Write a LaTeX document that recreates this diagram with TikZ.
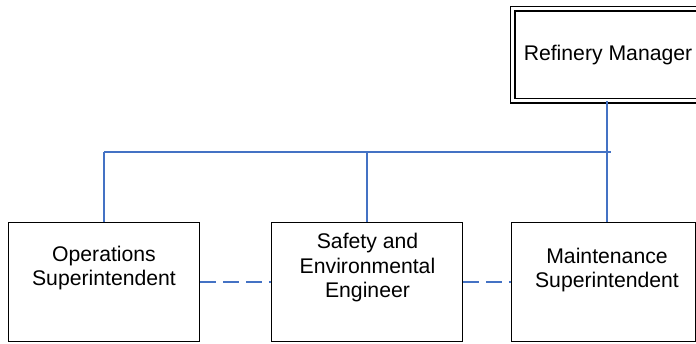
\documentclass[tikz,border=0pt]{standalone}
\usepackage{fontspec}
\setmainfont{Liberation Sans}
\usetikzlibrary{positioning}
\definecolor{ink}{HTML}{000000}
\definecolor{link}{HTML}{4472C4}
\tikzset{
  box/.style={draw=ink,line width=1.7pt,fill=white,inner sep=0pt,minimum width=191pt,minimum height=119pt},
  boxtop/.style={box,double=white,double distance=3.2pt,line width=1.4pt,minimum width=191pt,minimum height=92pt},
  txt/.style={align=center,font=\fontsize{21.2}{24.5}\selectfont,text=ink,inner sep=0pt},
  ln/.style={draw=link,line width=1.7pt},
  lnd/.style={ln,dash pattern=on 16pt off 7pt},
}
\begin{document}
\begin{tikzpicture}[x=1pt,y=-1pt]
\useasboundingbox (0,0) rectangle (696,343);
\clip (0,0) rectangle (696,343);
\node[boxtop] (rm) at (608,54.5) {};
\node[box] (ops) at (104,282) {};
\node[box] (saf) at (367,282) {};
\node[box,minimum width=184pt] (mnt) at (603.5,282) {};
\node[txt] (rmT) at (608,55) {Refinery Manager};
\node[txt] (opsT) at (104,268) {Operations\\Superintendent};
\node[txt] (safT) at (367.5,268) {Safety and\\Environmental\\Engineer};
\node[txt] (mntT) at (607,270) {Maintenance\\Superintendent};
\coordinate (bus) at (0,152);
\coordinate (busE) at (611,152);
\draw[ln] (ops.north |- bus) -- (busE);
\draw[ln] (rm.south -| 607,0) -- (mnt.north -| 607,0);
\draw[ln] (ops.north) -- (ops.north |- bus);
\draw[ln] (saf.north) -- (saf.north |- bus);
\draw[lnd] (ops.east) -- (saf.west);
\draw[lnd] (saf.east) -- (mnt.west);
\end{tikzpicture}
\end{document}
